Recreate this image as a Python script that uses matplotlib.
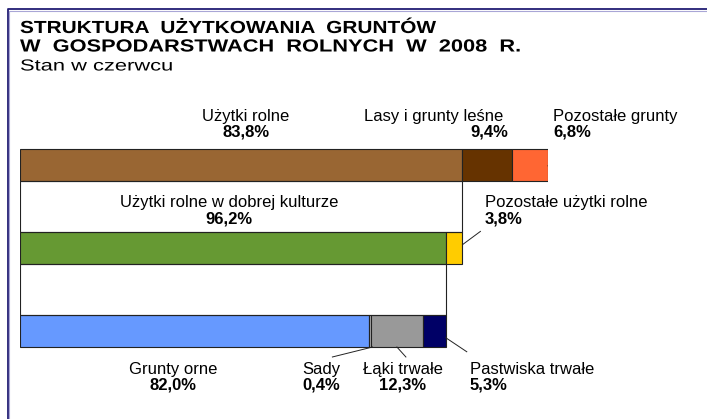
import matplotlib
matplotlib.use('Agg')
import matplotlib.pyplot as plt
import matplotlib.patheffects as pe
from matplotlib.patches import Rectangle
from matplotlib.transforms import Affine2D

plt.rcParams['font.family'] = ['Liberation Sans', 'DejaVu Sans']

# dane (%)
bar1_labels = ['Użytki rolne', 'Lasy i grunty leśne', 'Pozostałe grunty']
bar1_values = [83.8, 9.4, 6.8]
bar2_labels = ['Użytki rolne w dobrej kulturze', 'Pozostałe użytki rolne']
bar2_values = [96.2, 3.8]
bar3_labels = ['Grunty orne', 'Sady', 'Łąki trwałe', 'Pastwiska trwałe']
bar3_values = [82.0, 0.4, 12.3, 5.3]

colors1 = ['#996633', '#663300', '#FF6633']
colors2 = ['#669933', '#FFCC00']
colors3 = ['#6699FF', '#B0B0B0', '#999999', '#000066']

W, H = 707, 419
fig = plt.figure(figsize=(W / 100, H / 100), dpi=100)


def fx(px):
    return px / W


def fy(py):
    return 1 - py / H


class Stretch(pe.AbstractPathEffect):
    # rozciąga tekst w poziomie (szerszy odstęp jak w oryginale)
    def __init__(self, sx, x0):
        super().__init__()
        self.sx = sx
        self.x0 = x0

    def draw_path(self, renderer, gc, tpath, affine, rgbFace=None):
        t = Affine2D().translate(-self.x0, 0).scale(self.sx, 1).translate(self.x0, 0)
        renderer.draw_path(gc, tpath, affine + t, rgbFace)


# ramka
fig.add_artist(plt.Line2D([fx(7.5), fx(7.5), 1.01], [-0.01, fy(9.5), fy(9.5)],
                          color='#221E74', lw=1.3))
fig.add_artist(plt.Line2D([fx(8.8), fx(8.8), 1.01], [-0.01, fy(10.8), fy(10.8)],
                          color='#A9A6D6', lw=0.8))

# tytuł
fig.text(fx(20), fy(28.5), 'STRUKTURA  UŻYTKOWANIA  GRUNTÓW', fontsize=12.6,
         fontweight='bold', va='center', path_effects=[Stretch(1.19, 20)])
fig.text(fx(20), fy(47), 'W  GOSPODARSTWACH  ROLNYCH  W  2008  R.', fontsize=12.6,
         fontweight='bold', va='center', path_effects=[Stretch(1.245, 20)])
fig.text(fx(20), fy(66), 'Stan w czerwcu', fontsize=11.5, va='center',
         path_effects=[Stretch(1.37, 20)])

ax = fig.add_axes([fx(20), fy(372.5), 528 / W, 249 / H])
ax.set_xlim(0, 100)
ax.set_ylim(2.5, -0.5)
ax.axis('off')

h = 0.386
totals = [100, bar1_values[0], bar1_values[0] * bar2_values[0] / 100]
rows = [(bar1_values, colors1), (bar2_values, colors2), (bar3_values, colors3)]
edges = []
for i, (vals, cols) in enumerate(rows):
    left = 0
    row_edges = [0]
    for v, c in zip(vals, cols):
        w = v * totals[i] / 100
        ax.barh(i, w, left=left, height=h, color=c, edgecolor='#222222', linewidth=0.8)
        left += w
        row_edges.append(left)
    edges.append(row_edges)

# połączenia między słupkami
for i in range(2):
    ax.add_patch(Rectangle((0, i + h / 2), totals[i + 1], 1 - h, fill=False,
                           ec='#222222', lw=0.8))

# linie odniesienia
kw = dict(color='#222222', lw=0.7)
ax.plot([edges[0][3], edges[0][3] + 3.6], [0.01, -0.19], **kw)
ax.plot([edges[1][2], edges[1][2] + 3.4], [0.96, 0.80], **kw)
x = (edges[2][1] + edges[2][2]) / 2 + 0.5
ax.plot([x, x - 7.6], [2 + h / 2, 2 + h / 2 + 0.12], **kw)
x = (edges[2][2] + edges[2][3]) / 2
ax.plot([x, x + 1.7], [2 + h / 2, 2 + h / 2 + 0.12], **kw)
ax.plot([edges[2][4], edges[2][4] + 4.0], [2.08, 2.25], **kw)


def pct(v):
    return f'{v:.1f}'.replace('.', ',') + '%'


def label(px, py, name, value, ha='center', px2=None):
    fig.text(fx(px), fy(py), name, fontsize=12, ha=ha, va='center')
    fig.text(fx(px if px2 is None else px2), fy(py + 16), pct(value), fontsize=12,
             fontweight='bold', ha=ha, va='center')


label(246, 116, bar1_labels[0], bar1_values[0])
label(503, 116, bar1_labels[1], bar1_values[1], ha='right', px2=508)
label(553, 116, bar1_labels[2], bar1_values[2], ha='left')
label(229, 203, bar2_labels[0], bar2_values[0])
label(485, 203, bar2_labels[1], bar2_values[1], ha='left')
label(173, 369, bar3_labels[0], bar3_values[0])
label(302, 369, bar3_labels[1], bar3_values[1], ha='left')
label(403, 369, bar3_labels[2], bar3_values[2])
label(470, 369, bar3_labels[3], bar3_values[3], ha='left')

fig.savefig('out.png', dpi=100)
